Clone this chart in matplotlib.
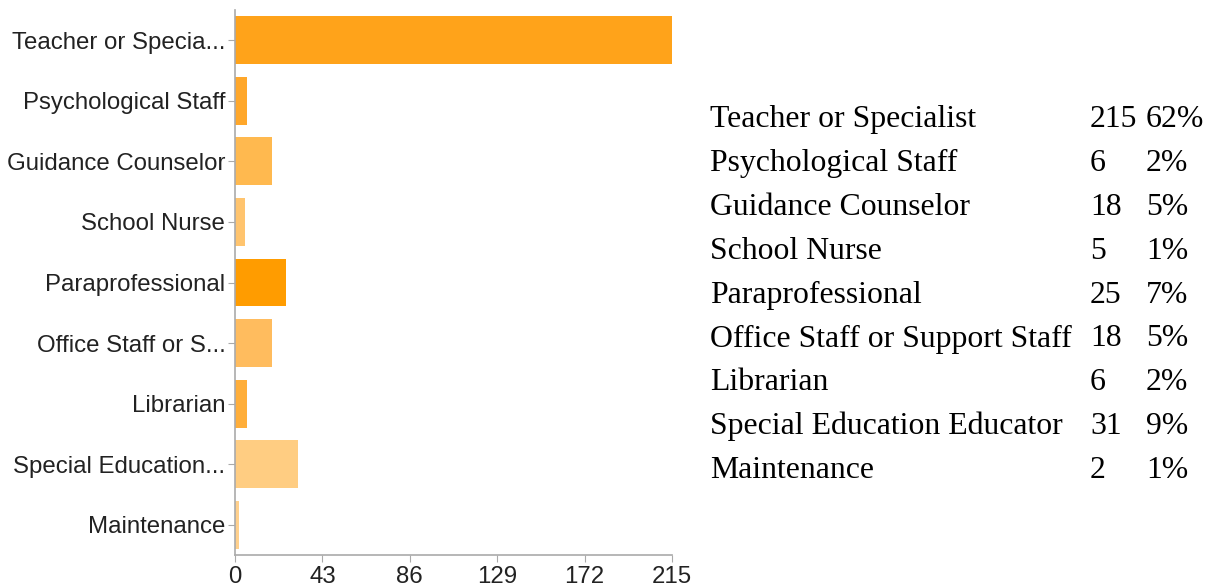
import matplotlib
matplotlib.use("Agg")
import matplotlib.pyplot as plt

categories = ["Teacher or Specialist", "Psychological Staff", "Guidance Counselor",
              "School Nurse", "Paraprofessional", "Office Staff or Support Staff",
              "Librarian", "Special Education Educator", "Maintenance"]
tick_labels = ["Teacher or Specia...", "Psychological Staff", "Guidance Counselor",
               "School Nurse", "Paraprofessional", "Office Staff or S...",
               "Librarian", "Special Education...", "Maintenance"]
counts = [215, 6, 18, 5, 25, 18, 6, 31, 2]
percents = ["62%", "2%", "5%", "1%", "7%", "5%", "2%", "9%", "1%"]
xticks = [0, 43, 86, 129, 172, 215]
colors = ["#FFA31A", "#FFA72A", "#FFB94F", "#FFC46E", "#FF9C00",
          "#FFBC5E", "#FFAE3A", "#FFCD82", "#FFD08C"]

W, H = 1209, 588
fig = plt.figure(figsize=(W / 100, H / 100), dpi=100)
ax = fig.add_axes([235 / W, 1 - 555 / H, (672 - 235) / W, (555 - 10) / H])

ypos = list(range(len(categories)))
ax.barh(ypos, counts, height=0.79, color=colors, edgecolor="none", zorder=2)
ax.set_ylim(8.5, -0.5)
ax.set_xlim(0, 215)
ax.set_yticks(ypos)
ax.set_yticklabels(tick_labels, fontsize=17.3, family="Liberation Sans", color="#222222")
ax.set_xticks(xticks)
ax.set_xticklabels([str(t) for t in xticks], fontsize=17.3, family="Liberation Sans", color="#222222")
for s in ["top", "right"]:
    ax.spines[s].set_visible(False)
for s in ["left", "bottom"]:
    ax.spines[s].set_color("#aaaaaa")
    ax.spines[s].set_linewidth(1.2)
ax.tick_params(axis="y", length=5, color="#aaaaaa", pad=2)
ax.tick_params(axis="x", length=5, color="#aaaaaa", pad=3)

row_y0 = 127
row_dy = 43.9
fs = 22.9
for i, (name, c, p) in enumerate(zip(categories, counts, percents)):
    yy = 1 - (row_y0 + i * row_dy) / H
    fig.text(710 / W, yy, name, fontsize=fs, family="Liberation Serif", va="baseline", ha="left", color="black")
    fig.text(1090 / W, yy, str(c), fontsize=fs, family="Liberation Serif", va="baseline", ha="left", color="black")
    fig.text(1146 / W, yy, p, fontsize=fs, family="Liberation Serif", va="baseline", ha="left", color="black")

fig.savefig("out.png", dpi=100)
